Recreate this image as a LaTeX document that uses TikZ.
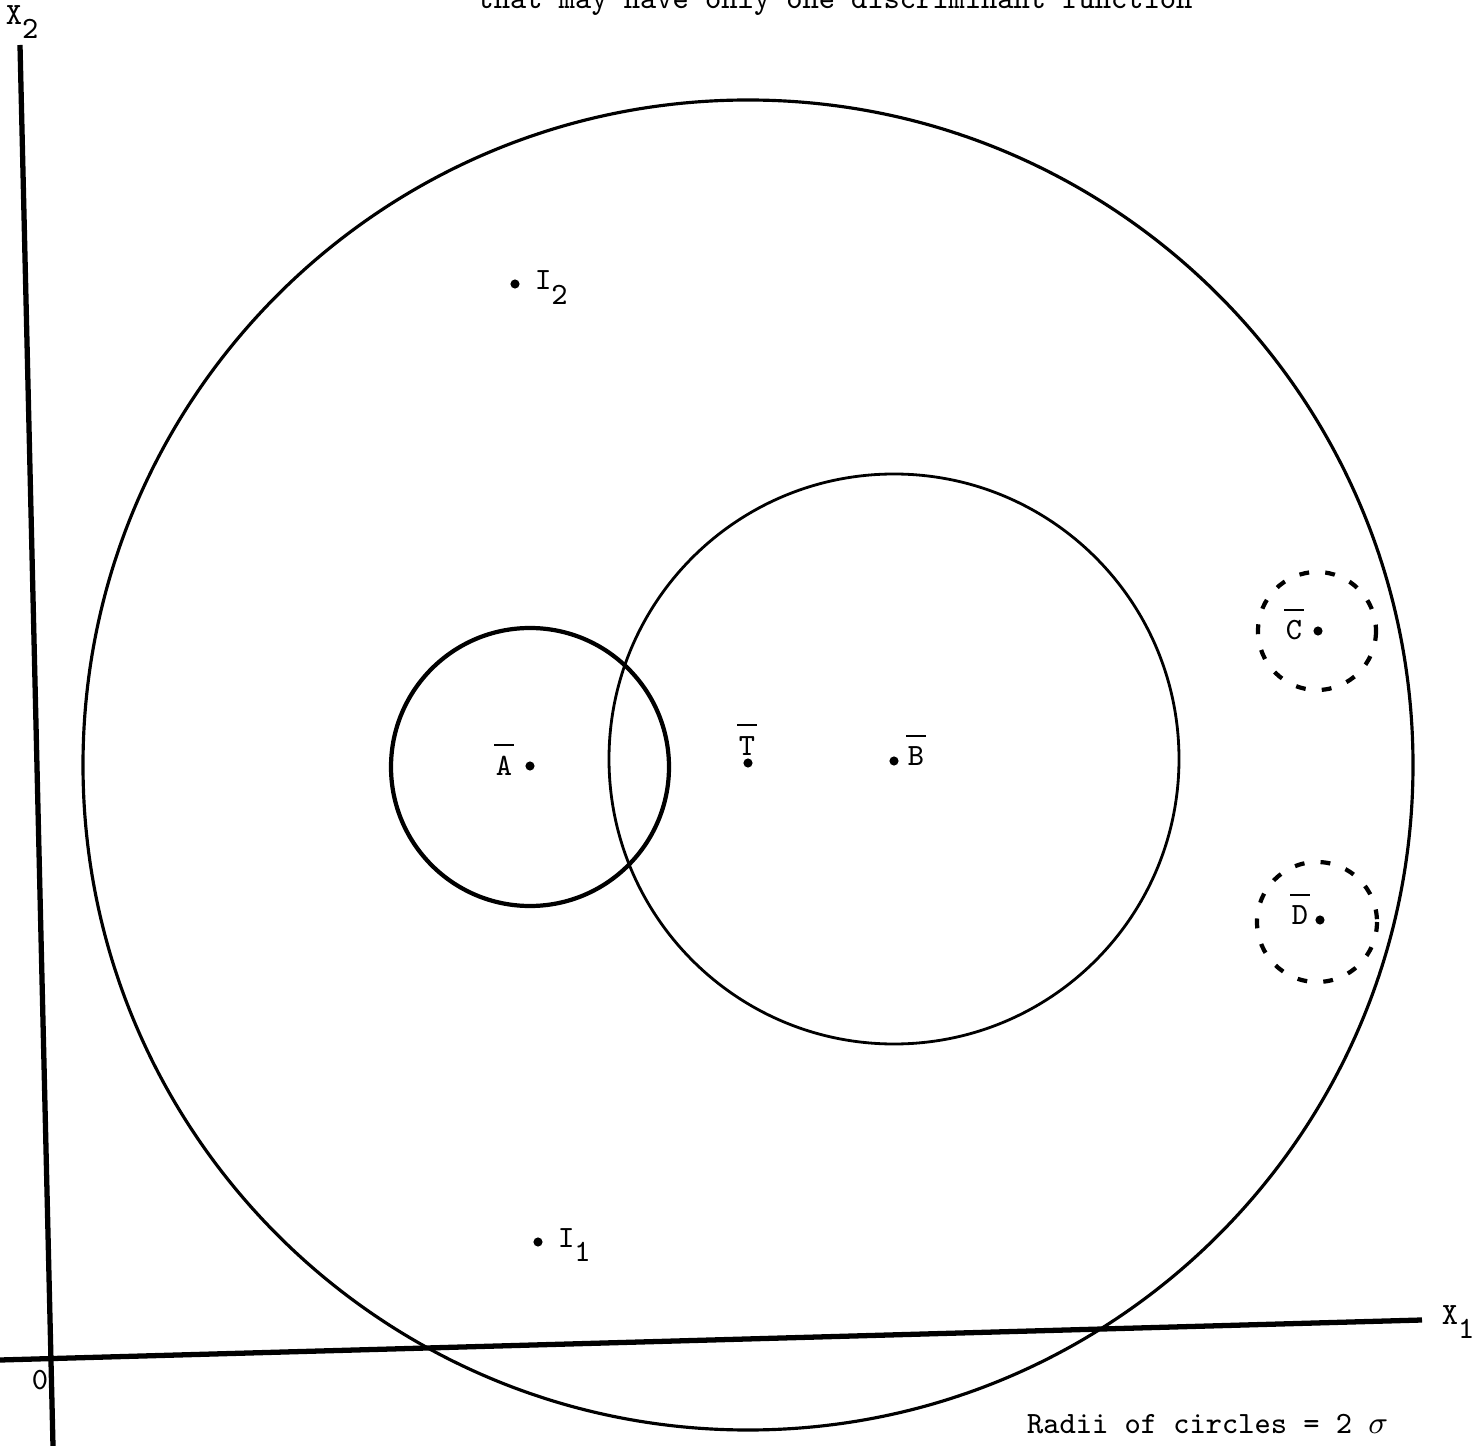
\documentclass[tikz,border=0pt]{standalone}
\usepackage{amsmath}
\usepackage{tikz}
\usetikzlibrary{positioning}

\newcommand{\barlbl}[1]{$\overline{\rule{0pt}{0.82em}\mbox{\kern0.5pt#1\kern0.5pt}}$}
\newcommand{\subnum}[2]{#1\raisebox{-1.1ex}{#2}}

\begin{document}
\begin{tikzpicture}[
  x=0.01cm, y=-0.01cm,
  every node/.style={font=\fontsize{8.8}{10}\ttfamily},
  axis/.style={line width=1.5pt, black},
  ring/.style={line width=0.9pt, black},
  dashring/.style={line width=1.2pt, black, dash pattern=on 2.8pt off 4.6pt},
  dot/.style={circle, fill=black, inner sep=0pt, minimum size=2.6pt},
  lbl/.style={inner sep=1pt}
]
\useasboundingbox (0,0) rectangle (1481,1446);

% axes
\coordinate (yTop) at (20,45);
\coordinate (yBot) at (53,1446);
\coordinate (xLeft) at (0,1360);
\coordinate (xRight) at (1422,1320);
\draw[axis] (yTop) -- (yBot);
\draw[axis] (xLeft) -- (xRight);
\node[lbl] (x2) at (22,22) {\subnum{X}{2}};
\node[lbl] (x1) at (1458,1322) {\subnum{X}{1}};
\node[lbl] (org) at (40,1380) {0};

% title (cut off at top)
\node[lbl, anchor=base] (ttl) at (835,9) {that may have only one discriminant function};

% circles
\draw[ring] (748,765) circle[radius=665];
\draw[ring, line width=1.2pt] (530,767) circle[radius=139];
\draw[ring, line width=0.8pt] (894,759) circle[radius=285];
\draw[dashring] (1317,631) circle[radius=59];
\draw[dashring] (1317,922) circle[radius=60];

% group means
\node[dot] (A) at (530,766) {};
\node[lbl, anchor=base east] (Alb) at (518,775) {\barlbl{A}};
\node[dot] (T) at (748,763) {};
\node[lbl, anchor=base] (Tlb) at (747,755) {\barlbl{T}};
\node[dot] (B) at (894,761) {};
\node[lbl, anchor=base west] (Blb) at (902,766) {\barlbl{B}};
\node[dot] (C) at (1318,631) {};
\node[lbl, anchor=base east] (Clb) at (1308,640) {\barlbl{C}};
\node[dot] (D) at (1320,920) {};
\node[lbl, anchor=base east] (Dlb) at (1314,925) {\barlbl{D}};

% individuals
\node[dot] (I2) at (515,284) {};
\node[lbl, anchor=base west] (I2lb) at (531,290) {\subnum{I}{2}};
\node[dot] (I1) at (538,1242) {};
\node[lbl, anchor=base west] (I1lb) at (554,1247) {\subnum{I}{1}};

% note
\node[lbl, anchor=base west] (note) at (1023,1433) {Radii of circles = 2 $\sigma$};
\end{tikzpicture}
\end{document}
